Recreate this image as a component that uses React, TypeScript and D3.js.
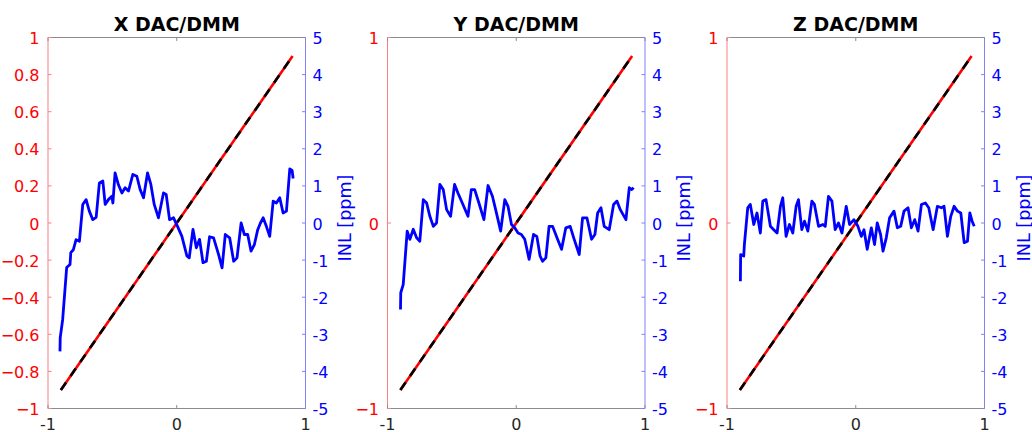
import React from "react";
import * as d3 from "d3";

const titles = ["X DAC/DMM", "Y DAC/DMM", "Z DAC/DMM"];
const xTicks = [-1, 0, 1];
const leftTicksFirst = [-1, -0.8, -0.6, -0.4, -0.2, 0, 0.2, 0.4, 0.6, 0.8, 1];
const leftTicksOther = [-1, 0, 1];
const rightTicks = [-5, -4, -3, -2, -1, 0, 1, 2, 3, 4, 5];
const refX = [-0.9, 0.9];
const refY = [-0.9, 0.9];

const xX = [-0.907, -0.905, -0.886, -0.855, -0.829, -0.823, -0.803, -0.782, -0.756, -0.730, -0.704, -0.679, -0.652, -0.626, -0.601, -0.574, -0.556, -0.531, -0.504, -0.496, -0.479, -0.453, -0.426, -0.401, -0.375, -0.341, -0.310, -0.284, -0.258, -0.227, -0.201, -0.175, -0.142, -0.103, -0.082, -0.056, -0.025, 0.006, 0.040, 0.079, 0.097, 0.126, 0.152, 0.177, 0.204, 0.230, 0.255, 0.286, 0.325, 0.352, 0.377, 0.411, 0.442, 0.468, 0.500, 0.525, 0.551, 0.577, 0.603, 0.629, 0.650, 0.671, 0.696, 0.722, 0.749, 0.774, 0.800, 0.826, 0.852, 0.878, 0.896, 0.904];
const xInl = [-3.46, -3.09, -2.6, -1.2, -1.12, -0.8, -0.72, -0.45, -0.49, 0.5, 0.63, 0.32, 0.09, 0.15, 1.08, 1.13, 0.5, 0.63, 0.72, 0.54, 1.35, 1.03, 0.81, 0.95, 0.86, 1.31, 1.26, 0.9, 0.68, 1.35, 1.04, 0.5, 0.14, 0.81, 0.77, 0.09, 0.14, -0.09, -0.36, -0.89, -0.94, -0.17, -0.67, -0.44, -1.07, -1.03, -0.37, -0.40, -0.85, -1.21, -0.31, -0.40, -1.03, -0.94, 0.0, -0.31, -0.31, -0.76, -0.58, -0.18, 0.0, 0.14, -0.09, -0.36, 0.59, 0.54, 0.68, 0.27, 0.32, 1.46, 1.42, 1.2];

const yX = [-0.899, -0.897, -0.878, -0.847, -0.826, -0.800, -0.774, -0.749, -0.722, -0.696, -0.671, -0.644, -0.619, -0.593, -0.567, -0.541, -0.510, -0.479, -0.453, -0.419, -0.375, -0.349, -0.323, -0.290, -0.251, -0.219, -0.185, -0.160, -0.121, -0.089, -0.064, -0.037, -0.012, 0.014, 0.040, 0.066, 0.100, 0.134, 0.160, 0.185, 0.204, 0.230, 0.255, 0.282, 0.321, 0.352, 0.385, 0.419, 0.450, 0.489, 0.515, 0.549, 0.585, 0.611, 0.632, 0.658, 0.683, 0.722, 0.756, 0.782, 0.808, 0.852, 0.878, 0.897, 0.912];
const yInl = [-2.33, -1.88, -1.66, -0.22, -0.44, -0.17, -0.40, -0.49, 0.63, 0.54, 0.18, -0.09, 0.0, 1.04, 0.90, 0.36, 0.18, 1.04, 0.81, 0.54, 0.18, 0.90, 0.90, 0.54, 0.09, 1.01, 0.72, 0.36, -0.22, 0.63, 0.45, -0.04, -0.13, -0.27, -0.31, -0.44, -0.98, -0.31, -0.36, -0.89, -1.03, -0.94, -0.09, -0.09, -0.44, -0.71, -0.13, -0.09, -0.44, -0.85, 0.14, 0.14, -0.44, -0.31, 0.27, 0.41, -0.09, -0.18, 0.50, 0.59, 0.36, 0.09, 0.95, 0.90, 0.95];

const zX = [-0.896, -0.894, -0.870, -0.865, -0.839, -0.819, -0.792, -0.767, -0.741, -0.722, -0.697, -0.663, -0.637, -0.611, -0.585, -0.567, -0.541, -0.515, -0.489, -0.463, -0.445, -0.419, -0.398, -0.372, -0.341, -0.321, -0.289, -0.255, -0.237, -0.212, -0.185, -0.160, -0.134, -0.107, -0.074, -0.048, -0.014, 0.017, 0.043, 0.064, 0.089, 0.121, 0.146, 0.167, 0.193, 0.212, 0.237, 0.263, 0.297, 0.323, 0.349, 0.375, 0.406, 0.432, 0.458, 0.484, 0.510, 0.541, 0.567, 0.601, 0.634, 0.665, 0.686, 0.712, 0.738, 0.764, 0.790, 0.816, 0.842, 0.868, 0.886, 0.904, 0.920];
const zInl = [-1.57, -0.85, -0.89, -0.58, 0.41, 0.50, -0.04, 0.27, -0.27, 0.59, 0.63, -0.09, -0.18, -0.27, 0.45, 0.68, -0.36, -0.04, -0.27, 0.45, 0.63, -0.18, 0.05, -0.22, 0.59, 0.50, -0.09, -0.04, -0.09, 0.72, 0.59, -0.18, 0.0, -0.27, 0.45, -0.04, 0.09, -0.09, -0.36, -0.18, -0.71, -0.13, -0.58, 0.0, -0.31, -0.76, -0.40, 0.14, 0.32, -0.13, -0.09, 0.32, 0.41, -0.13, 0.09, -0.22, 0.50, 0.54, 0.41, -0.18, 0.45, 0.41, 0.45, -0.36, 0.18, 0.45, 0.32, 0.27, -0.53, -0.49, 0.27, 0.05, -0.09];

const panels = [
  { title: titles[0], xs: xX, inl: xInl, leftTicks: leftTicksFirst },
  { title: titles[1], xs: yX, inl: yInl, leftTicks: leftTicksOther },
  { title: titles[2], xs: zX, inl: zInl, leftTicks: leftTicksOther },
];

const FONT = "'DejaVu Sans', sans-serif";
const LEFT0 = 48;
const STEP = 339.5;
const W = 257.5;
const TOP = 37.5;
const H = 371;
const TL = 3.5;

function Panel({ p, i }: { p: typeof panels[number]; i: number }) {
  const x0 = LEFT0 + i * STEP;
  const x = d3.scaleLinear().domain([-1, 1]).range([x0, x0 + W]);
  const yL = d3.scaleLinear().domain([-1, 1]).range([TOP + H, TOP]);
  const yR = d3.scaleLinear().domain([-5, 5]).range([TOP + H, TOP]);
  const refLine = d3.line<number>().x((_, k) => x(refX[k])).y((_, k) => yL(refY[k]));
  const inlLine = d3.line<number>().x((_, k) => x(p.xs[k])).y((d) => yR(d));
  const xr = x0 + W;
  const yb = TOP + H;
  return (
    <g>
      <text x={(x0 + xr) / 2} y={31} textAnchor="middle" fontFamily={FONT} fontWeight="bold" fontSize={19} fill="#000">
        {p.title}
      </text>
      <path d={refLine(refX) || ""} fill="none" stroke="#ff0000" strokeWidth={2.6} />
      <path d={refLine(refX) || ""} fill="none" stroke="#000" strokeWidth={2.6} strokeDasharray="9,8" />
      <path d={inlLine(p.inl) || ""} fill="none" stroke="#0000ff" strokeWidth={2.8} strokeLinejoin="round" />
      <line x1={x0} x2={xr} y1={TOP} y2={TOP} stroke="#8c8c8c" strokeWidth={1} />
      <line x1={x0} x2={xr} y1={yb} y2={yb} stroke="#8c8c8c" strokeWidth={1} />
      <line x1={x0} x2={x0} y1={TOP} y2={yb} stroke="#ff7f7f" strokeWidth={1} />
      <line x1={xr} x2={xr} y1={TOP} y2={yb} stroke="#8080ff" strokeWidth={1} />
      {xTicks.map((t) => (
        <g key={"x" + t}>
          <line x1={x(t)} x2={x(t)} y1={yb} y2={yb - TL} stroke="#8c8c8c" />
          <line x1={x(t)} x2={x(t)} y1={TOP} y2={TOP + TL} stroke="#8c8c8c" />
          <text x={x(t)} y={430} textAnchor="middle" fontFamily={FONT} fontSize={16} fill="#262626">
            {t}
          </text>
        </g>
      ))}
      {p.leftTicks.map((t) => (
        <g key={"l" + t}>
          <line x1={x0} x2={x0 + TL} y1={yL(t)} y2={yL(t)} stroke="#ff7f7f" />
          <text x={x0 - 8.5} y={yL(t) + 6.5} textAnchor="end" fontFamily={FONT} fontSize={16} fill="#ff0000">
            {d3.format("")(+t.toFixed(1))}
          </text>
        </g>
      ))}
      {rightTicks.map((t) => (
        <g key={"r" + t}>
          <line x1={xr} x2={xr - TL} y1={yR(t)} y2={yR(t)} stroke="#8080ff" />
          <text x={xr + 7} y={yR(t) + 6.5} textAnchor="start" fontFamily={FONT} fontSize={16} fill="#0000ff">
            {t}
          </text>
        </g>
      ))}
      <text
        transform={`translate(${xr + 45},${218}) rotate(-90)`}
        textAnchor="middle"
        fontFamily={FONT}
        fontSize={17.6}
        fill="#0000ff"
      >
        INL [ppm]
      </text>
    </g>
  );
}

export default function App() {
  return (
    <svg width={1032} height={432} style={{ position: "absolute", left: 0, top: 0, background: "#fff" }}>
      <rect width={1032} height={432} fill="#fff" />
      {panels.map((p, i) => (
        <Panel key={i} p={p} i={i} />
      ))}
    </svg>
  );
}
